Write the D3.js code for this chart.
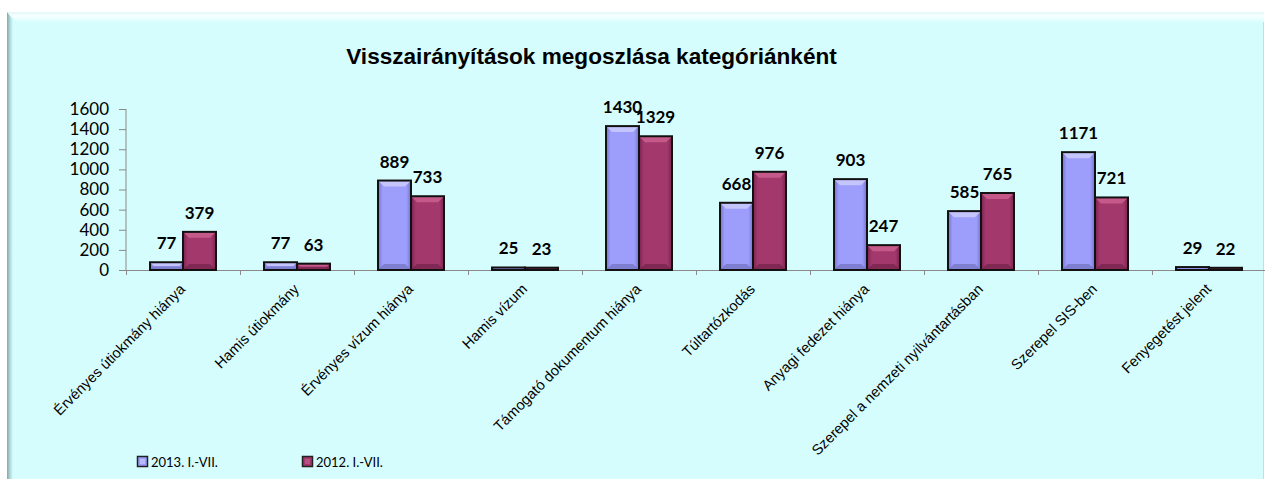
<!DOCTYPE html>
<html><head><meta charset="utf-8">
<script src="https://cdn.jsdelivr.net/npm/d3@7"></script>
<style>body{margin:0;background:#fff;}svg{display:block;}</style>
</head><body>
<svg id="c" width="1265" height="479"></svg>
<script>
const categories = ["Érvényes útiokmány hiánya","Hamis útiokmány","Érvényes vízum hiánya","Hamis vízum","Támogató dokumentum hiánya","Túltartózkodás","Anyagi fedezet hiánya","Szerepel a nemzeti nyilvántartásban","Szerepel SIS-ben","Fenyegetést jelent"];
const series2013 = [77,77,889,25,1430,668,903,585,1171,29];
const series2012 = [379,63,733,23,1329,976,247,765,721,22];
const seriesNames = ["2013. I.-VII.","2012. I.-VII."];
const yTicks = [0,200,400,600,800,1000,1200,1400,1600];
const title = "Visszairányítások megoszlása kategóriánként";

const svg = d3.select("#c");
const defs = svg.append("defs");
const BG = "#d6fdfd";

function lg(id, x1,y1,x2,y2, stops){
  const g = defs.append("linearGradient").attr("id",id).attr("x1",x1).attr("y1",y1).attr("x2",x2).attr("y2",y2);
  stops.forEach(s=>g.append("stop").attr("offset",s[0]).attr("stop-color",s[1]));
}
lg("gTop",0,0,0,1,[[0,"#e4f6f6"],[0.35,"#f7ffff"],[1,BG]]);
lg("gLeft",0,0,1,0,[[0,"#8aa4a4"],[0.5,"#b0d9d9"],[1,BG]]);
svg.append("rect").attr("x",7).attr("y",12).attr("width",1257).attr("height",480).attr("fill",BG);
svg.append("polygon").attr("points","7,12 1264,12 1264,23 18,23").attr("fill","url(#gTop)");
svg.append("polygon").attr("points","7,12 13,20 13,479 7,479").attr("fill","url(#gLeft)");
svg.append("line").attr("x1",1263.5).attr("x2",1263.5).attr("y1",22).attr("y2",479).attr("stroke","#c4dede").attr("stroke-width",1);

svg.append("text").attr("x",591.5).attr("y",64).attr("text-anchor","middle")
  .attr("font-family","'Liberation Sans',Arial,sans-serif").attr("font-weight","bold").attr("font-size",22.6)
  .attr("fill","#000").text(title);

const x = d3.scaleBand().domain(categories).range([126,1266]).padding(0);
const x1 = d3.scaleBand().domain([0,1]).range([24,90]).padding(0);
const y = d3.scaleLinear().domain([0,1600]).range([270,109]);

const yAxis = svg.append("g").attr("transform","translate(126,0)")
  .call(d3.axisLeft(y).tickValues(yTicks).tickSize(7).tickPadding(10).tickFormat(d3.format("d")));
yAxis.selectAll("path,line").attr("stroke","#8a8a8a");
yAxis.selectAll("text").attr("font-family","Lato,'Open Sans',sans-serif").attr("font-size",17).attr("fill","#000");
yAxis.select(".domain").attr("d","M0,109V270");

const xAxisG = svg.append("g").attr("transform","translate(0,270)");
xAxisG.append("line").attr("x1",126).attr("x2",1266).attr("y1",0.5).attr("y2",0.5).attr("stroke","#8a8a8a");
xAxisG.selectAll("line.t").data(categories).enter().append("line").attr("class","t")
  .attr("x1",d=>Math.round(x(d))+0.5).attr("x2",d=>Math.round(x(d))+0.5).attr("y1",0).attr("y2",5).attr("stroke","#8a8a8a");
xAxisG.selectAll("text").data(categories).enter().append("text")
  .attr("transform",d=>`translate(${x(d)+x.bandwidth()/2+3},${20}) rotate(-45)`)
  .attr("text-anchor","end")
  .attr("font-family","'Liberation Sans',Arial,sans-serif").attr("font-size",14.6).attr("fill","#000")
  .text(d=>d);

const colors = [
  {base:"#9d9dfb", edge:"#7373cc", light:"#c4c4ff", dark:"#6a6ab8"},
  {base:"#a2386b", edge:"#782250", light:"#c55a8a", dark:"#6a1e44"}
];
colors.forEach((c,i)=>{
  lg("gb"+i,0,0,1,0,[[0,c.edge],[0.14,c.base],[0.86,c.base],[1,c.edge]]);
});
const data = [series2013, series2012];
const barG = svg.append("g");
categories.forEach((cat,ci)=>{
  data.forEach((ser,si)=>{
    const v = ser[ci];
    const bx = x(cat)+x1(si), bw = x1.bandwidth();
    const by = y(v), bh = y(0)-y(v);
    const c = colors[si];
    const g = barG.append("g");
    g.append("rect").attr("x",bx).attr("y",by).attr("width",bw).attr("height",bh).attr("fill","url(#gb"+si+")");
    const bev = Math.min(6, bh/2);
    if (bh > 4){
      g.append("polygon").attr("points",`${bx},${by} ${bx+bw},${by} ${bx+bw-bev},${by+bev} ${bx+bev},${by+bev}`).attr("fill",c.light);
      g.append("polygon").attr("points",`${bx},${by+bh} ${bx+bw},${by+bh} ${bx+bw-bev},${by+bh-bev} ${bx+bev},${by+bh-bev}`).attr("fill",c.dark).attr("opacity",0.6);
    }
    g.append("rect").attr("x",bx).attr("y",by).attr("width",bw).attr("height",bh).attr("fill","none").attr("stroke","#111").attr("stroke-width",2);
    barG.append("text").attr("x",bx+bw/2).attr("y",by-13).attr("text-anchor","middle")
      .attr("font-family","Lato,'Open Sans',sans-serif").attr("font-weight","bold").attr("font-size",17).attr("fill","#000")
      .text(v);
  });
});

const legX = [137, 302];
seriesNames.forEach((n,i)=>{
  const g = svg.append("g").attr("transform",`translate(${legX[i]},456)`);
  g.append("rect").attr("x",0.5).attr("y",0.5).attr("width",10).attr("height",10).attr("fill",colors[i].base).attr("stroke","#222").attr("stroke-width",1.5);
  g.append("rect").attr("x",3).attr("y",3).attr("width",5).attr("height",5).attr("fill",colors[i].light).attr("opacity",0.7);
  g.append("text").attr("x",14).attr("y",10.5).attr("font-family","Lato,'Open Sans',sans-serif").attr("font-size",13).attr("fill","#000").text(n);
});
</script>
</body></html>
